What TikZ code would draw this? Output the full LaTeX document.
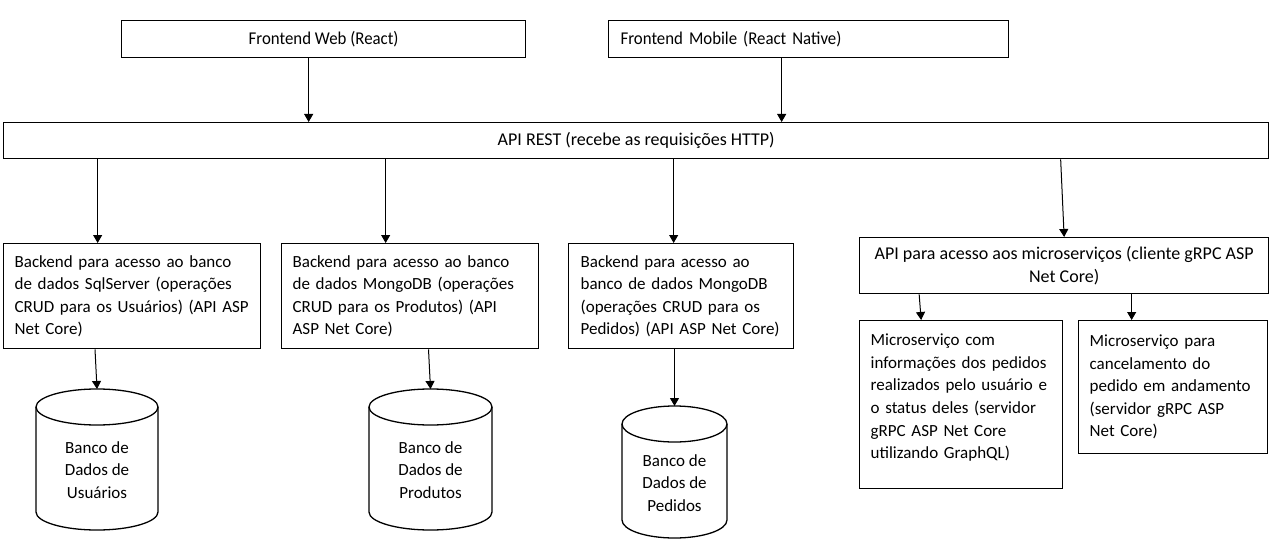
\documentclass[tikz,border=0pt]{standalone}
\usepackage{fontspec}
\setmainfont{Carlito}
\newfontfamily\narrowfont[FakeStretch=0.935]{Carlito}
\usetikzlibrary{arrows.meta}
\tikzset{
  blockbox/.style = {draw=black, rectangle, line width=1.3pt, anchor=north west,
    inner ysep=0pt, font=\fontsize{18pt}{22.5pt}\selectfont},
  blk_c/.style = {blockbox, align=center},% bloco, texto centrado
  blk_l/.style = {blockbox, align=left,
    font=\fontsize{17pt}{22.5pt}\selectfont},% bloco, texto a esquerda
  blk_f/.style = {blockbox, font=\narrowfont\fontsize{18pt}{22.5pt}\selectfont},% frontend
  dbline/.style = {draw=black, line width=1.3pt},% banco de dados
  dbtext/.style = {align=center, inner sep=0pt,
    font=\fontsize{17pt}{22.5pt}\selectfont},
  link/.style = {line width=1pt, -{Triangle[length=8pt,width=9pt]}}
}

\begin{document}
\begin{tikzpicture}[x=1pt,y=-1pt]
\useasboundingbox (0,0) rectangle (1274,548);
% camada de frontend
\node [blk_f, minimum width=404pt, minimum height=37pt] (fweb) at (121,20)
  {Frontend Web (React)};
\node [blk_f, align=left, inner xsep=12pt, text width=376pt, minimum height=37pt] (fmob) at (608,20)
  {Frontend Mobile (React Native)};
\node [blk_c, minimum width=1265pt, minimum height=36pt] (api) at (3,122)
  {API REST (recebe as requisições HTTP)};
% backends
\node [blk_l, inner xsep=11pt, text width=235pt, minimum height=105pt] (be_usr) at (3,243)
  {Backend para acesso ao banco\\de dados SqlServer (operações\\CRUD para os Usuários) (API ASP\\Net Core)};
\node [blk_l, inner xsep=11pt, text width=235pt, minimum height=105pt] (be_prd) at (281,243)
  {Backend para acesso ao banco\\de dados MongoDB (operações\\CRUD para os Produtos) (API\\ASP Net Core)};
\node [blk_l, inner xsep=12pt, text width=201pt, minimum height=105pt] (be_ped) at (568,243)
  {Backend para acesso ao\\banco de dados MongoDB\\(operações CRUD para os\\Pedidos) (API ASP Net Core)};
% microservicos
\node [blk_c, minimum width=409pt, minimum height=56pt] (api_ms) at (859,237)
  {API para acesso aos microserviços (cliente gRPC ASP\\Net Core)};
\node [blk_l, inner xsep=11pt, text width=181pt, minimum height=168pt] (ms_info) at (859,320)
  {Microserviço com\\informações dos pedidos\\realizados pelo usuário e\\o status deles (servidor\\gRPC ASP Net Core\\utilizando GraphQL)\\[-6pt]\mbox{}};
\node [blk_l, inner xsep=11pt, text width=167pt, minimum height=133pt] (ms_canc) at (1078,320)
  {Microserviço para\\cancelamento do\\pedido em andamento\\(servidor gRPC ASP\\Net Core)};
% bancos de dados (cilindros)
\draw [dbline] (36,407) -- (36,512) arc [start angle=180, end angle=0, x radius=61, y radius=18] -- (158,407);
\draw [dbline] (97,407) ellipse [x radius=61, y radius=18];
\draw [dbline] (369,407) -- (369,512) arc [start angle=180, end angle=0, x radius=61.5, y radius=18] -- (492,407);
\draw [dbline] (430.5,407) ellipse [x radius=61.5, y radius=18];
\draw [dbline] (622,424) -- (622,520) arc [start angle=180, end angle=0, x radius=52.5, y radius=18] -- (727,424);
\draw [dbline] (674.5,424) ellipse [x radius=52.5, y radius=18];
\coordinate (top_usr) at (97,389);
\coordinate (top_prd) at (430.5,389);
\coordinate (top_ped) at (674.5,406);
\node [dbtext] (db_usr) at (97,470) {Banco de\\Dados de\\Usuários};
\node [dbtext] (db_prd) at (430.5,470) {Banco de\\Dados de\\Produtos};
\node [dbtext] (db_ped) at (674.5,483) {Banco de\\Dados de\\Pedidos};
% conexoes
\draw [link] ([xshift=-15pt]fweb.south) -- ([xshift=-15pt]fweb.south |- api.north);
\draw [link] ([xshift=-27pt]fmob.south) -- ([xshift=-27pt]fmob.south |- api.north);
\draw [link] ([xshift=-34.5pt]be_usr.north |- api.south) -- ([xshift=-34.5pt]be_usr.north);
\draw [link] ([xshift=-24.5pt]be_prd.north |- api.south) -- ([xshift=-24.5pt]be_prd.north);
\draw [link] ([xshift=-7.5pt]be_ped.north |- api.south) -- ([xshift=-7.5pt]be_ped.north);
\draw [link] ([xshift=-3.5pt]api_ms.north |- api.south) -- (api_ms.north);
\draw [link] ([xshift=-42pt]ms_info.north |- api_ms.south) -- ([xshift=-40pt]ms_info.north);
\draw [link] ([xshift=-41.5pt]ms_canc.north |- api_ms.south) -- ([xshift=-41.5pt]ms_canc.north);
\draw [link] ([xshift=-2pt]top_usr |- be_usr.south) -- (top_usr);
\draw [link] ([xshift=-2pt]top_prd |- be_prd.south) -- (top_prd);
\draw [link] (top_ped |- be_ped.south) -- (top_ped);
\end{tikzpicture}
\end{document}
